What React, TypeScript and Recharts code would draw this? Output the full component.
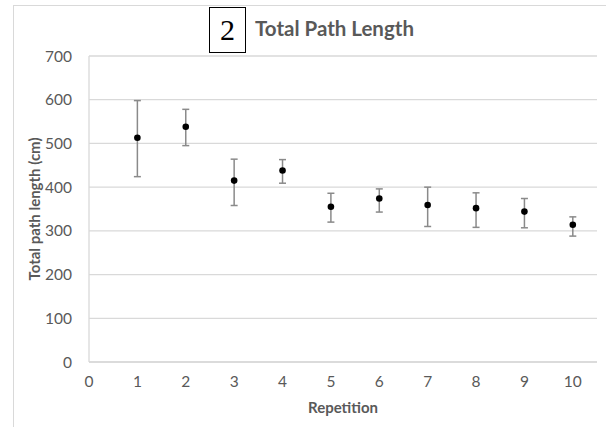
import React from "react";
import { ScatterChart, Scatter, XAxis, YAxis, CartesianGrid, ErrorBar, Label } from "recharts";

const repetitions = [1, 2, 3, 4, 5, 6, 7, 8, 9, 10];
const meanLength = [513, 538, 415, 438, 355, 374, 359, 352, 344, 314];
const errLow = [89, 43, 57, 29, 35, 31, 49, 44, 37, 26];
const errHigh = [85, 40, 49, 25, 31, 22, 41, 35, 30, 18];
const xTicks = [0, 1, 2, 3, 4, 5, 6, 7, 8, 9, 10];
const yTicks = [0, 100, 200, 300, 400, 500, 600, 700];

const data = repetitions.map((r, i) => ({
  x: r,
  y: meanLength[i],
  err: [errLow[i], errHigh[i]],
}));

const FONT = "Lato, 'Open Sans', sans-serif";
const GREY = "#595959";

export default function App() {
  return (
    <div
      style={{
        position: "fixed",
        left: 0,
        top: 0,
        width: 606,
        height: 427,
        background: "#fff",
        overflow: "hidden",
        fontFamily: FONT,
      }}
    >
      <div
        style={{
          position: "absolute",
          left: 13,
          top: 5,
          width: 606,
          height: 440,
          borderLeft: "1px solid #d9d9d9",
          borderTop: "1px solid #d9d9d9",
        }}
      />
      <div
        style={{
          position: "absolute",
          left: 209,
          top: 7,
          width: 35,
          height: 44,
          border: "1px solid #000",
          background: "#fff",
          fontFamily: "'Liberation Serif', 'DejaVu Serif', serif",
          fontSize: 30,
          lineHeight: "44px",
          textAlign: "center",
          color: "#000",
        }}
      >
        2
      </div>
      <div
        style={{
          position: "absolute",
          left: 255,
          top: 15,
          fontSize: 20.5,
          fontWeight: 700,
          color: GREY,
          lineHeight: "26px",
          whiteSpace: "nowrap",
        }}
      >
        Total Path Length
      </div>
      <div style={{ position: "absolute", left: 0, top: 0 }}>
        <ScatterChart
          width={606}
          height={427}
          margin={{ top: 56, right: 9, bottom: 13, left: 13 }}
        >
          <CartesianGrid horizontal={true} vertical={false} stroke="#d9d9d9" strokeWidth={1.3} />
          <XAxis
            type="number"
            dataKey="x"
            domain={[0, 10.5]}
            ticks={xTicks}
            interval={0}
            allowDataOverflow
            height={52}
            axisLine={{ stroke: "#d9d9d9", strokeWidth: 1.3 }}
            tickLine={false}
            tickSize={0}
            tickMargin={14}
            tick={{ fill: GREY, fontSize: 15.5, fontFamily: FONT }}
          >
            <Label
              value="Repetition"
              position="insideBottom"
              offset={1}
              fill={GREY}
              fontSize={15}
              fontWeight={700}
              fontFamily={FONT}
            />
          </XAxis>
          <YAxis
            type="number"
            dataKey="y"
            domain={[0, 700]}
            ticks={yTicks}
            interval={0}
            width={76}
            axisLine={{ stroke: "#d9d9d9", strokeWidth: 1.3 }}
            tickLine={false}
            tickSize={0}
            tickMargin={17}
            tick={{ fill: GREY, fontSize: 15.5, fontFamily: FONT }}
          >
            <Label
              value="Total path length (cm)"
              position="center"
              angle={-90}
              dx={-16}
              fill={GREY}
              fontSize={15}
              fontWeight={700}
              fontFamily={FONT}
            />
          </YAxis>
          <Scatter
            data={data}
            fill="#000"
            isAnimationActive={false}
            shape={(props: any) => <circle cx={props.cx} cy={props.cy} r={3.3} fill="#000" />}
          >
            <ErrorBar dataKey="err" direction="y" width={3.5} stroke="#8a8a8a" strokeWidth={1.5} />
          </Scatter>
        </ScatterChart>
      </div>
    </div>
  );
}
